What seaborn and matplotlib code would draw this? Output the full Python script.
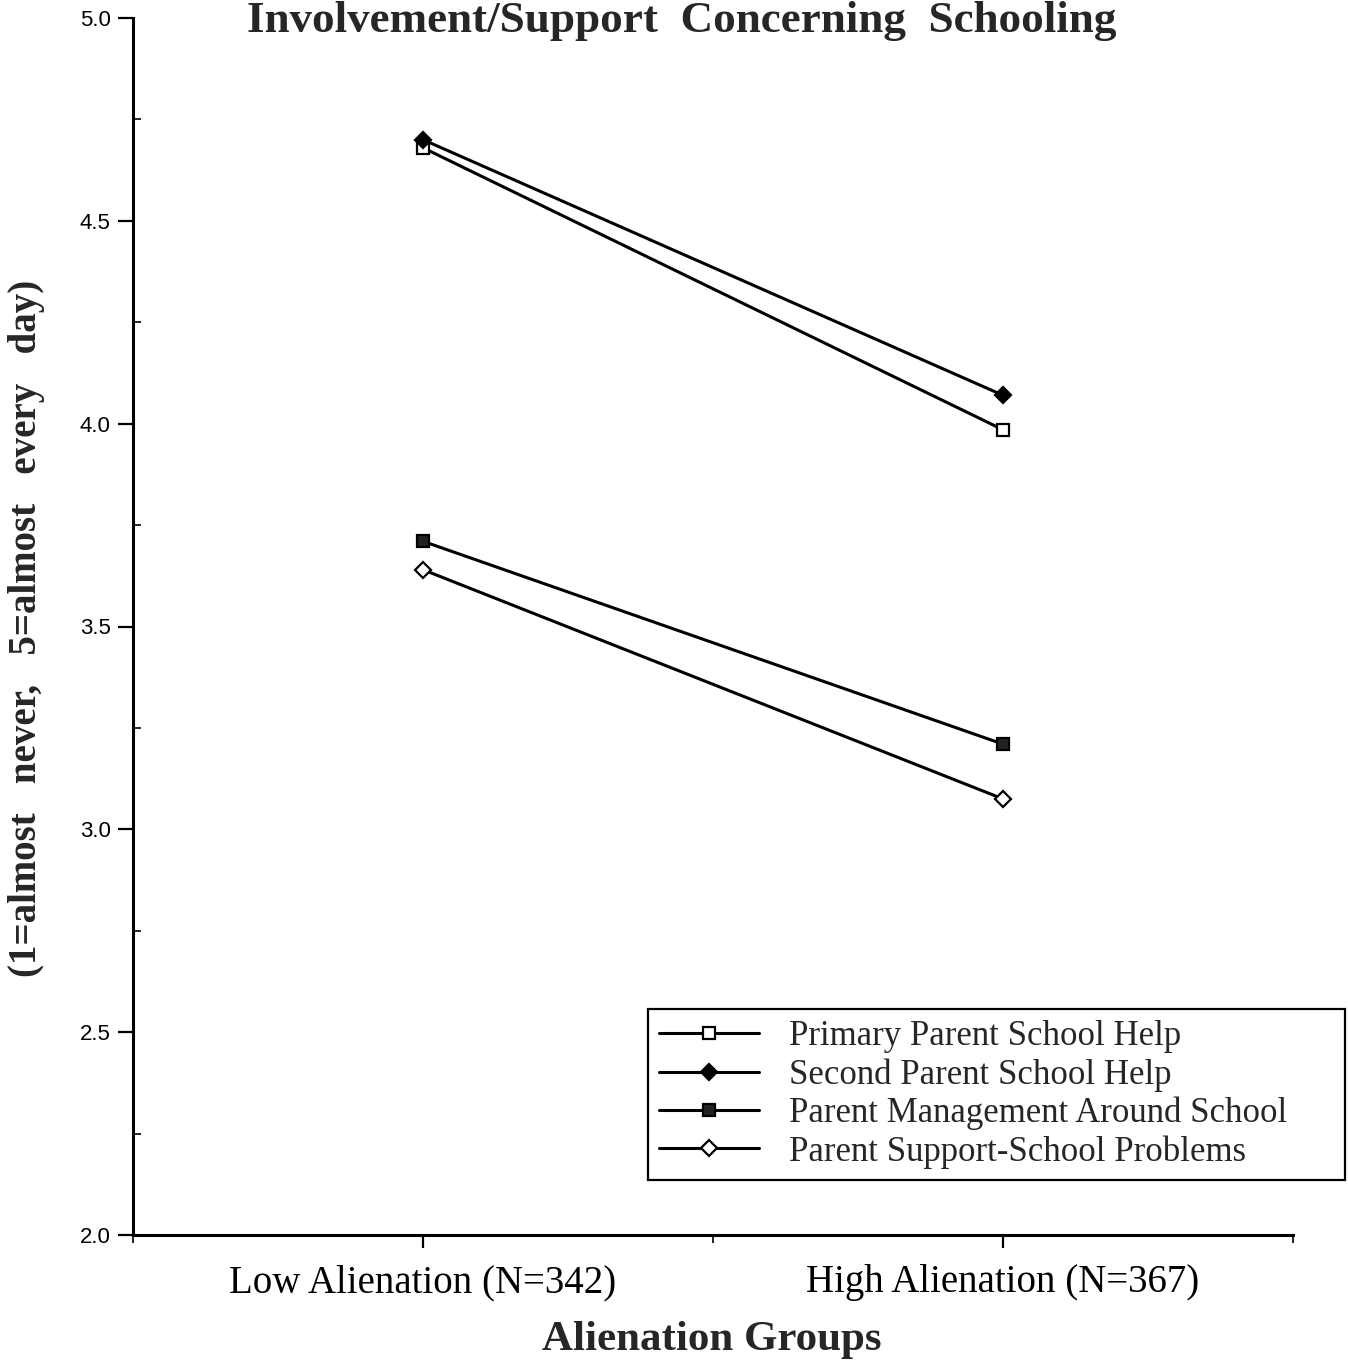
import matplotlib
matplotlib.use("Agg")
import matplotlib.pyplot as plt
import seaborn as sns
import pandas as pd
from matplotlib.ticker import MultipleLocator, FormatStrFormatter

groups = ["Low Alienation (N=342)", "High Alienation (N=367)"]
series_names = ["Primary Parent School Help", "Second Parent School Help",
                "Parent Management Around School", "Parent Support-School Problems"]
primary_help = [4.68, 3.985]
second_help = [4.70, 4.07]
management = [3.71, 3.21]
support = [3.64, 3.075]

values = [primary_help, second_help, management, support]
styles = [("s", "white"), ("D", "black"), ("s", "#222222"), ("D", "white")]

sns.set_style("ticks")
plt.rcParams["font.family"] = ["Liberation Serif", "DejaVu Serif"]

fig = plt.figure(figsize=(13.48, 13.61), dpi=100)
ax = fig.add_axes([133/1348, 1 - 1235/1361, (1293-133)/1348, (1235-18)/1361])

for name, vals, (mk, fc) in zip(series_names, values, styles):
    df = pd.DataFrame({"group": groups, "value": vals})
    sns.lineplot(data=df, x="group", y="value", ax=ax, color="black", lw=2.2,
                 marker=mk, markersize=8, markerfacecolor=fc,
                 markeredgecolor="black", markeredgewidth=1.6, label=name)

ax.set_xlim(-0.5, 1.5)
ax.set_ylim(2.0, 5.0)
ax.set_xticks([0, 1])
ax.set_xticklabels(groups)
ax.xaxis.set_minor_locator(MultipleLocator(0.5))
ax.yaxis.set_major_locator(MultipleLocator(0.5))
ax.yaxis.set_minor_locator(MultipleLocator(0.25))
ax.yaxis.set_major_formatter(FormatStrFormatter("%.1f"))
ax.set_xlabel("")
ax.set_ylabel("")

for s in ["top", "right"]:
    ax.spines[s].set_visible(False)
for s in ["left", "bottom"]:
    ax.spines[s].set_linewidth(2.2)
    ax.spines[s].set_color("black")

ax.tick_params(axis="x", which="major", direction="out", length=9, width=1.6,
               labelsize=28, pad=12, colors="black")
ax.tick_params(axis="x", which="minor", direction="out", length=6, width=1.4)
ax.tick_params(axis="y", which="major", direction="out", length=11, width=1.6,
               labelsize=16, pad=5, colors="black")
ax.tick_params(axis="y", which="minor", direction="in", length=6, width=1.4)
for lab in ax.get_yticklabels():
    lab.set_family(["Liberation Sans", "DejaVu Sans"])

x0 = 648/1348
y0 = 1 - 1180/1361
leg = ax.legend(loc="lower left",
                bbox_to_anchor=(x0, y0, 1345/1348 - x0, (1180-1010)/1361),
                bbox_transform=fig.transFigure, mode="expand",
                fontsize=25, frameon=True,
                fancybox=False, edgecolor="black", framealpha=1,
                handlelength=2.88, handletextpad=0.86, labelspacing=0.14,
                borderpad=0.33, borderaxespad=0)
leg.get_frame().set_linewidth(1.6)

fig.text(682/1348, 1 - 32/1361, "Involvement/Support  Concerning  Schooling",
         ha="center", va="baseline", fontsize=32.5, fontweight="bold")
fig.text(27/1348, 1 - 628/1361, "(1=almost   never,   5=almost   every   day)",
         ha="center", va="center", rotation=90, fontsize=28, fontweight="bold")
fig.text(712/1348, 1 - 1340/1361, "Alienation Groups",
         ha="center", va="center", fontsize=31, fontweight="bold")

fig.savefig("out.png", dpi=100)
